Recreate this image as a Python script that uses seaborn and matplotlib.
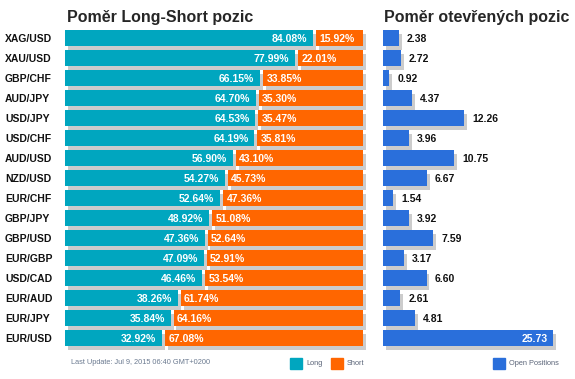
import matplotlib
matplotlib.use("Agg")
import matplotlib.pyplot as plt
import matplotlib.patheffects as pe
from matplotlib.patches import Rectangle
import seaborn as sns

# Data
pairs = ["XAG/USD", "XAU/USD", "GBP/CHF", "AUD/JPY", "USD/JPY", "USD/CHF",
         "AUD/USD", "NZD/USD", "EUR/CHF", "GBP/JPY", "GBP/USD", "EUR/GBP",
         "USD/CAD", "EUR/AUD", "EUR/JPY", "EUR/USD"]
long_pct = [84.08, 77.99, 66.15, 64.70, 64.53, 64.19, 56.90, 54.27,
            52.64, 48.92, 47.36, 47.09, 46.46, 38.26, 35.84, 32.92]
short_pct = [15.92, 22.01, 33.85, 35.30, 35.47, 35.81, 43.10, 45.73,
             47.36, 51.08, 52.64, 52.91, 53.54, 61.74, 64.16, 67.08]
open_pos = [2.38, 2.72, 0.92, 4.37, 12.26, 3.96, 10.75, 6.67,
            1.54, 3.92, 7.59, 3.17, 6.60, 2.61, 4.81, 25.73]

title_left = "Poměr Long-Short pozic"
title_right = "Poměr otevřených pozic"
update_text = "Last Update: Jul 9, 2015 06:40 GMT+0200"

TEAL = "#00a6bf"
ORANGE = "#ff6600"
BLUE = "#2a6fdb"
SHADOW = "#cccccc"
GAP = 1.0  # gap between long and short bar (percent units)

sns.set_style("white")
plt.rcParams['font.family'] = ['Liberation Sans', 'DejaVu Sans']

W, H = 575, 379
fig = plt.figure(figsize=(W / 100, H / 100), dpi=100)

top_px, pitch = 28, 20
bottom = 1 - (top_px + pitch * len(pairs)) / H
height = pitch * len(pairs) / H
ax1 = fig.add_axes([65 / W, bottom, 298 / W, height])
ax2 = fig.add_axes([383 / W, bottom, 170 / W, height])

shadow = [pe.SimplePatchShadow(offset=(2, -2.9), shadow_rgbFace=SHADOW, alpha=1.0), pe.Normal()]
bar_kws = dict(orient="h", saturation=1, errorbar=None, width=0.8,
               linewidth=0, clip_on=False, path_effects=shadow)

# Long / short stacked bars
sns.barplot(x=long_pct, y=pairs, color=TEAL, ax=ax1, **bar_kws)
sns.barplot(x=short_pct, y=pairs, color=ORANGE, ax=ax1,
            left=[v + GAP for v in long_pct], **bar_kws)
ax1.set_xlim(0, 100 + GAP)
ax1.set_ylim(len(pairs) - 0.5, -0.5)

for i, (lv, sv) in enumerate(zip(long_pct, short_pct)):
    ax1.annotate(f"{lv:.2f}%", (lv, i), xytext=(-4.3, 0), textcoords="offset points",
                 ha="right", va="center_baseline", color="white",
                 fontsize=7.5, fontweight="bold")
    ax1.annotate(f"{sv:.2f}%", (lv + GAP, i), xytext=(2.3, 0), textcoords="offset points",
                 ha="left", va="center_baseline", color="white",
                 fontsize=7.5, fontweight="bold")

# Open positions
sns.barplot(x=open_pos, y=pairs, color=BLUE, ax=ax2, **bar_kws)
ax2.set_xlim(0, max(open_pos))
ax2.set_ylim(len(pairs) - 0.5, -0.5)
for i, v in enumerate(open_pos):
    if v > 0.8 * max(open_pos):
        ax2.annotate(f"{v:.2f}", (v, i), xytext=(-3.6, 0), textcoords="offset points",
                     ha="right", va="center_baseline", color="white",
                     fontsize=7.5, fontweight="bold")
    else:
        ax2.annotate(f"{v:.2f}", (v, i), xytext=(5.8, 0), textcoords="offset points",
                     ha="left", va="center_baseline", color="#111111",
                     fontsize=7.5, fontweight="bold")

for ax in (ax1, ax2):
    sns.despine(ax=ax, left=True, bottom=True)
    ax.set_xticks([])
    ax.set_xlabel("")
    ax.set_ylabel("")

ax1.tick_params(axis="y", length=0, pad=43.2, labelsize=7.5)
for lbl in ax1.get_yticklabels():
    lbl.set_ha("left")
    lbl.set_fontweight("bold")
    lbl.set_color("#111111")
ax2.set_yticks([])

# Titles
fig.text(67 / W, 1 - 22 / H, title_left, fontsize=11.5, fontweight="bold", va="baseline")
fig.text(384 / W, 1 - 22 / H, title_right, fontsize=11.5, fontweight="bold", va="baseline")

# Footer and legend keys
fig.text(71 / W, 1 - 363 / H, update_text, fontsize=5.3, color="#6b7a90", va="center")
for x0, col, lab in [(290, TEAL, "Long"), (331, ORANGE, "Short"), (493, BLUE, "Open Positions")]:
    fig.patches.append(Rectangle((x0 / W, 1 - 369 / H), 12 / W, 11 / H,
                                 transform=fig.transFigure, color=col))
    fig.text((x0 + 16) / W, 1 - 363.5 / H, lab, fontsize=5.3, color="#5a6478", va="center")

fig.savefig("out.png", dpi=100)
